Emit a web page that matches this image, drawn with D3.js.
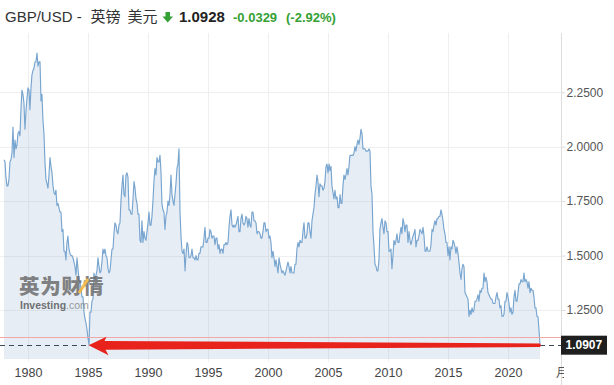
<!DOCTYPE html>
<html><head><meta charset="utf-8">
<script src="https://cdn.jsdelivr.net/npm/d3@7"></script>
<style>
body{margin:0;background:#fff;overflow:hidden;}
svg{display:block;font-family:"Liberation Sans",Arial,"Noto Sans CJK SC",sans-serif;}
</style></head><body>
<svg id="c" width="614" height="385"></svg>
<script>
// ---- data (monthly closes, GBP/USD) ----
const startYear = 1978;
const closes1978_1987 = [
 1.94,1.93,1.86,1.82,1.82,1.85,1.93,1.94,1.97,2.09,1.95,2.03,
 1.99,2.01,2.06,2.07,2.05,2.17,2.26,2.24,2.20,2.08,2.16,2.22,
 2.27,2.26,2.17,2.27,2.33,2.35,2.36,2.39,2.39,2.43,2.37,2.39,
 2.39,2.21,2.24,2.12,2.06,1.93,1.85,1.83,1.81,1.87,1.95,1.91,
 1.88,1.82,1.79,1.78,1.80,1.73,1.74,1.72,1.70,1.70,1.61,1.62,
 1.52,1.52,1.48,1.56,1.59,1.53,1.51,1.50,1.50,1.49,1.47,1.45,
 1.41,1.49,1.44,1.39,1.38,1.35,1.31,1.31,1.24,1.21,1.19,1.16,
 1.12,1.09,1.24,1.24,1.29,1.30,1.42,1.39,1.41,1.43,1.49,1.45,
 1.42,1.43,1.47,1.53,1.51,1.53,1.50,1.49,1.44,1.42,1.43,1.48,
 1.53,1.53,1.60,1.65,1.64,1.61,1.60,1.64,1.65,1.75,1.82,1.87];
const closes1988_1997 = [
 1.78,1.77,1.87,1.88,1.86,1.71,1.71,1.69,1.69,1.76,1.84,1.81,
 1.76,1.74,1.69,1.69,1.57,1.56,1.66,1.56,1.61,1.58,1.57,1.61,
 1.65,1.70,1.64,1.64,1.68,1.75,1.84,1.90,1.87,1.95,1.93,1.93,
 1.96,1.88,1.74,1.71,1.70,1.62,1.68,1.70,1.75,1.73,1.78,1.87,
 1.78,1.75,1.73,1.78,1.83,1.90,1.92,1.99,1.70,1.59,1.52,1.51,
 1.53,1.43,1.50,1.56,1.55,1.49,1.49,1.50,1.53,1.49,1.49,1.48,
 1.50,1.48,1.48,1.51,1.51,1.54,1.54,1.54,1.58,1.63,1.56,1.56,
 1.58,1.58,1.62,1.61,1.58,1.59,1.59,1.55,1.58,1.58,1.53,1.55,
 1.51,1.53,1.53,1.51,1.55,1.55,1.56,1.55,1.56,1.63,1.68,1.71,
 1.64,1.63,1.64,1.63,1.64,1.66,1.68,1.61,1.61,1.67,1.69,1.65];
const closes1998_2007 = [
 1.64,1.65,1.68,1.67,1.63,1.67,1.64,1.63,1.70,1.70,1.66,1.66,
 1.65,1.60,1.61,1.61,1.60,1.58,1.58,1.61,1.65,1.65,1.61,1.62,
 1.62,1.58,1.59,1.56,1.49,1.52,1.49,1.45,1.48,1.45,1.42,1.49,
 1.46,1.44,1.42,1.43,1.42,1.41,1.43,1.45,1.47,1.45,1.42,1.45,
 1.42,1.42,1.42,1.46,1.46,1.53,1.56,1.54,1.57,1.56,1.56,1.61,
 1.65,1.58,1.58,1.60,1.65,1.65,1.61,1.58,1.66,1.69,1.72,1.78,
 1.82,1.87,1.84,1.77,1.83,1.82,1.82,1.80,1.81,1.84,1.91,1.92,
 1.88,1.92,1.89,1.91,1.82,1.79,1.76,1.80,1.76,1.77,1.72,1.72,
 1.78,1.74,1.74,1.82,1.87,1.85,1.87,1.90,1.87,1.91,1.96,1.96,
 1.96,1.96,1.97,2.00,1.98,2.01,2.03,2.01,2.04,2.08,2.06,1.99];
const closes2008_2017 = [
 1.99,1.99,1.98,1.98,1.98,1.99,1.98,1.82,1.78,1.61,1.54,1.46,
 1.45,1.43,1.43,1.48,1.62,1.65,1.67,1.63,1.60,1.66,1.65,1.61,
 1.61,1.52,1.52,1.53,1.44,1.50,1.57,1.55,1.57,1.60,1.56,1.56,
 1.60,1.63,1.60,1.67,1.65,1.61,1.64,1.64,1.56,1.61,1.57,1.55,
 1.57,1.59,1.60,1.62,1.54,1.57,1.57,1.59,1.62,1.61,1.60,1.63,
 1.59,1.52,1.52,1.54,1.52,1.52,1.52,1.55,1.62,1.61,1.64,1.66,
 1.64,1.67,1.67,1.68,1.68,1.71,1.69,1.66,1.62,1.60,1.56,1.56,
 1.50,1.54,1.48,1.54,1.53,1.57,1.56,1.54,1.51,1.54,1.51,1.47,
 1.42,1.39,1.44,1.46,1.45,1.33,1.32,1.31,1.30,1.22,1.25,1.23,
 1.26,1.24,1.25,1.29,1.29,1.30,1.32,1.29,1.34,1.33,1.35,1.35];
const closes2018_2022 = [
 1.42,1.38,1.40,1.38,1.33,1.32,1.31,1.30,1.30,1.28,1.28,1.28,
 1.31,1.33,1.30,1.30,1.26,1.27,1.22,1.22,1.23,1.29,1.29,1.33,
 1.31,1.28,1.24,1.26,1.23,1.24,1.31,1.34,1.29,1.29,1.33,1.37,
 1.37,1.39,1.38,1.38,1.42,1.38,1.39,1.38,1.35,1.38,1.33,1.35,
 1.34,1.34,1.31,1.26,1.26,1.22,1.22,1.16,1.0907];
const yTickValues = [1.25, 1.5, 1.75, 2.0, 2.25];
const xTickYears = [1980, 1985, 1990, 1995, 2000, 2005, 2010, 2015, 2020];
const axisTailLabel = "月";
const pairName = "GBP/USD -";
const pairCn1 = "英镑", pairCn2 = "美元";
const quotePrice = 1.0928, quoteChange = -0.0329, quoteChangePct = -2.92;
const lastPrice = 1.0907;
const prevClose = quotePrice - quoteChange;

// ---- build ----
const values = [].concat(closes1978_1987, closes1988_1997, closes1998_2007, closes2008_2017, closes2018_2022);
const data = values.map((v, i) => ({date: new Date(startYear, i, 1), value: v}));

const svg = d3.select("#c");
const plotTop = 33, plotBottom = 359, axisX = 561.5;

const x = d3.scaleTime()
  .domain([data[0].date, data[data.length - 1].date])
  .range([4, 540]);
const y = d3.scaleLinear().domain([1.025, 2.49]).range([359, 40]);

// gridlines
const grid = svg.append("g");
grid.selectAll("line.h").data(yTickValues).join("line")
  .attr("x1", 0).attr("x2", axisX)
  .attr("y1", d => Math.round(y(d)) + 0.5).attr("y2", d => Math.round(y(d)) + 0.5)
  .attr("stroke", "#efefef");
grid.selectAll("line.v").data(xTickYears).join("line")
  .attr("x1", d => Math.round(x(new Date(d, 0, 1))) + 0.5)
  .attr("x2", d => Math.round(x(new Date(d, 0, 1))) + 0.5)
  .attr("y1", plotTop).attr("y2", 362)
  .attr("stroke", "#efefef");

// area + line
svg.append("path").datum(data)
  .attr("d", d3.area().x(d => x(d.date)).y0(plotBottom).y1(d => y(d.value)))
  .attr("fill", "rgba(120,160,200,0.19)");
svg.append("path").datum(data)
  .attr("d", d3.line().x(d => x(d.date)).y(d => y(d.value)))
  .attr("fill", "none").attr("stroke", "#78a5cf").attr("stroke-width", 1.15)
  .attr("stroke-linejoin", "round");

// watermark
const wm = svg.append("g").attr("opacity", 0.85);
wm.append("text").attr("x", 19).attr("y", 293.5)
  .attr("font-family", "'Noto Sans CJK SC'").attr("font-weight", 900)
  .attr("font-size", 20.5).attr("fill", "#6e6e6e").attr("letter-spacing", 0.8)
  .text("英为财情");
wm.append("line").attr("x1", 79).attr("y1", 293).attr("x2", 88).attr("y2", 279)
  .attr("stroke", "#f2b233").attr("stroke-width", 3);
const wt = wm.append("text").attr("x", 20).attr("y", 309).attr("font-size", 10.5);
wt.append("tspan").attr("font-weight", "bold").attr("fill", "#5a5a5a").text("Investing");
wt.append("tspan").attr("fill", "#8a8a8a").text(".com");

// previous close line
svg.append("line").attr("x1", 0).attr("x2", axisX)
  .attr("y1", Math.round(y(prevClose)) + 0.5).attr("y2", Math.round(y(prevClose)) + 0.5)
  .attr("stroke", "#f3a8a8").attr("stroke-width", 1);

// current price dashed line
const yLast = y(lastPrice);
svg.append("line").attr("x1", 0).attr("x2", axisX)
  .attr("y1", Math.round(yLast) + 0.5).attr("y2", Math.round(yLast) + 0.5)
  .attr("stroke", "#3a4a5a").attr("stroke-width", 1).attr("stroke-dasharray", "5,4");

// red annotation arrow: from latest point back to the 1985 low
const lowPt = data.reduce((a, b) => b.value < a.value ? b : a);
const tx = x(lowPt.date) - 0.5, ty = yLast + 0.5, ex = x(data[data.length - 1].date);
const arrowPts = [
  [tx, ty], [tx + 18, ty - 8.5], [tx + 16, ty - 4.2], [ex, ty - 1.8],
  [ex + 1, ty], [ex, ty + 1.8], [tx + 17, ty + 4.5], [tx + 20, ty + 10]
];
svg.append("path").attr("d", d3.line()(arrowPts) + "Z").attr("fill", "#e8231c");

// right axis
svg.append("line").attr("x1", axisX).attr("x2", axisX).attr("y1", plotTop).attr("y2", 385)
  .attr("stroke", "#dcdcdc");
const yAxis = d3.axisRight(y).tickValues(yTickValues).tickFormat(d3.format(".4f")).tickSize(4).tickPadding(1);
const yg = svg.append("g").attr("transform", `translate(${axisX},0)`).call(yAxis);
yg.select(".domain").remove();
yg.selectAll(".tick line").attr("stroke", "#dcdcdc");
yg.selectAll(".tick text").attr("font-size", 12).attr("fill", "#555")
  .attr("font-family", "'Liberation Sans',Arial,sans-serif");

// price tag
svg.append("rect").attr("x", axisX - 0.5).attr("y", yLast - 9).attr("width", 46).attr("height", 19)
  .attr("fill", "#1f1f1f");
svg.append("text").attr("x", axisX + 4).attr("y", yLast + 4.5)
  .attr("font-size", 12).attr("font-weight", "bold").attr("fill", "#fff")
  .text(d3.format(".4f")(lastPrice));

// bottom axis labels
const xAxis = d3.axisBottom(x).tickValues(xTickYears.map(yy => new Date(yy, 0, 1)))
  .tickFormat(d3.timeFormat("%Y")).tickSize(0).tickPadding(0);
const xg = svg.append("g").attr("transform", "translate(0,365)").call(xAxis);
xg.select(".domain").remove();
xg.selectAll(".tick text").attr("font-size", 12.5).attr("fill", "#444")
  .attr("font-family", "'Liberation Sans Narrow','Arial Narrow',sans-serif").attr("dy", "0.95em");
svg.append("clipPath").attr("id", "tailclip").append("rect").attr("x", 540).attr("y", 360).attr("width", 24).attr("height", 25);
svg.append("text").attr("clip-path", "url(#tailclip)").attr("x", 556).attr("y", 377)
  .attr("font-size", 12).attr("fill", "#555").attr("font-family", "'Noto Sans CJK SC'")
  .text(axisTailLabel);

// title
const t = svg.append("g");
t.append("text").attr("x", 5).attr("y", 21.5).attr("font-size", 15).attr("fill", "#333").text(pairName);
t.append("text").attr("x", 90.5).attr("y", 21.5).attr("font-size", 15).attr("fill", "#333")
  .attr("font-family", "'Noto Sans CJK SC'").text(pairCn1);
t.append("text").attr("x", 127.5).attr("y", 21.5).attr("font-size", 15).attr("fill", "#333")
  .attr("font-family", "'Noto Sans CJK SC'").text(pairCn2);
t.append("path").attr("d", "M165.5,12 h4.5 v4.5 h3 l-5.25,6 l-5.25,-6 h3 Z").attr("fill", "#35a035");
t.append("text").attr("x", 179).attr("y", 21.5).attr("font-size", 15).attr("font-weight", "bold")
  .attr("fill", "#222").text(d3.format(".4f")(quotePrice));
t.append("text").attr("x", 233).attr("y", 21.5).attr("font-size", 13).attr("font-weight", "bold")
  .attr("fill", "#35a035").text(d3.format(".4f")(quoteChange).replace("−", "-"));
t.append("text").attr("x", 286).attr("y", 21.5).attr("font-size", 13).attr("font-weight", "bold")
  .attr("fill", "#35a035").text("(" + d3.format(".2f")(quoteChangePct).replace("−", "-") + "%)");
</script>
</body></html>
